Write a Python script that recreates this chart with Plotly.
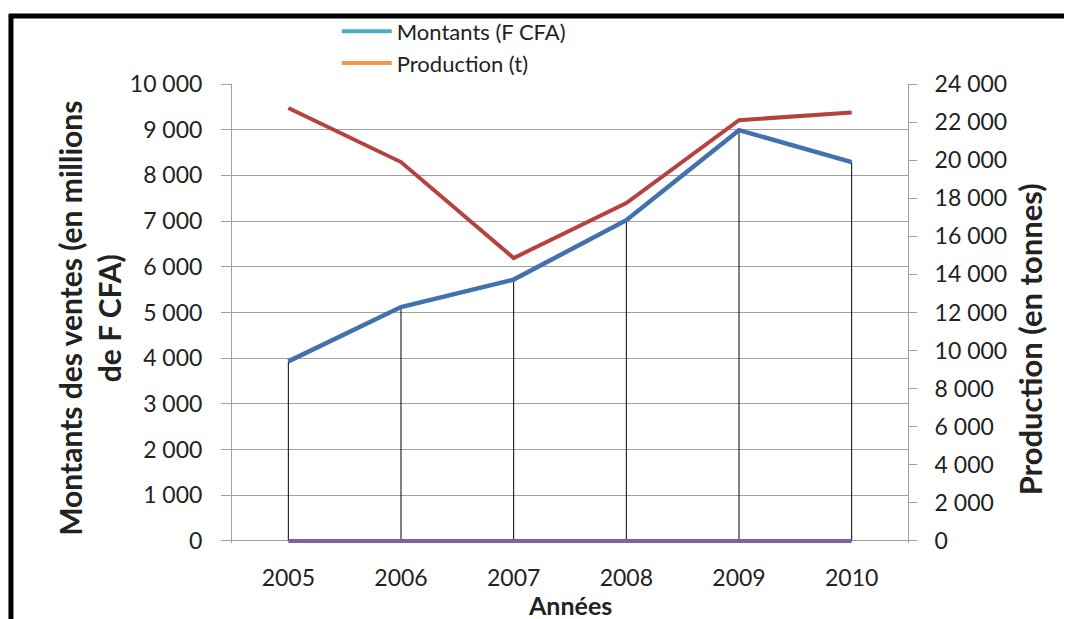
import plotly.graph_objects as go

# Données
annees = ["2005", "2006", "2007", "2008", "2009", "2010"]
montants = [3930, 5120, 5720, 7020, 8990, 8290]          # millions F CFA (axe gauche)
production = [22740, 19900, 14860, 17750, 22100, 22500]  # tonnes (axe droit)
serie_zero = [0, 0, 0, 0, 0, 0]

FONT = "Lato"
GRIS = "#A0A0A0"

fig = go.Figure()

# lignes de projection (noires) sous la courbe des montants
drop_x, drop_y = [], []
for a, m in zip(annees, montants):
    drop_x += [a, a, None]
    drop_y += [0, m, None]
fig.add_trace(go.Scatter(x=drop_x, y=drop_y, mode="lines",
                         line=dict(color="black", width=1),
                         showlegend=False, hoverinfo="skip"))

fig.add_trace(go.Scatter(x=annees, y=serie_zero, mode="lines",
                         line=dict(color="#7F60A0", width=4), showlegend=False))
fig.add_trace(go.Scatter(x=annees, y=montants, mode="lines",
                         line=dict(color="#4272AE", width=4.5), showlegend=False))
fig.add_trace(go.Scatter(x=annees, y=production, mode="lines", yaxis="y2",
                         line=dict(color="#B5423F", width=4), showlegend=False))

# la légende d'origine affiche d'autres couleurs que les courbes
fig.add_trace(go.Scatter(x=[None], y=[None], mode="lines", name="Montants (F CFA)",
                         line=dict(color="#4BACC6", width=4)))
fig.add_trace(go.Scatter(x=[None], y=[None], mode="lines", name="Production (t)",
                         line=dict(color="#F79646", width=4)))

# la page ajoute une marge de 8 px : figure 1064x611
# petite marge sous 0 pour que la série à zéro ne soit pas coupée
fig.update_layout(
    width=1064, height=611,
    margin=dict(l=224, r=164, t=76, b=76, autoexpand=False),
    paper_bgcolor="white", plot_bgcolor="white",
    font=dict(family=FONT, size=23, color="#222"),
    separators=", ",
    showlegend=True,
    legend=dict(x=0.155, y=1.16, xanchor="left", yanchor="top",
                font=dict(size=22), bgcolor="rgba(0,0,0,0)",
                tracegroupgap=0, itemwidth=50),
    xaxis=dict(type="category", range=[-0.5, 5.5], showline=False,
               ticks="", showgrid=False,
               ticklabelstandoff=19, tickfont=dict(size=23)),
    yaxis=dict(range=[-44, 10000], tickvals=list(range(0, 10001, 1000)),
               tickformat=",d",
               showgrid=True, gridcolor=GRIS, gridwidth=1,
               showline=True, linecolor=GRIS, ticks="outside",
               ticklen=10, tickcolor=GRIS, zeroline=False,
               layer="below traces", ticklabelstandoff=14),
    yaxis2=dict(range=[-105.6, 24000], tickvals=list(range(0, 24001, 2000)),
                tickformat=",d",
                overlaying="y", side="right", showgrid=False,
                showline=True, linecolor=GRIS, ticks="outside",
                ticklen=8, tickcolor=GRIS, zeroline=False,
                layer="below traces", ticklabelstandoff=13),
)

# titres des axes
fig.add_annotation(text="<b>Montants des ventes (en millions<br>de F CFA)</b>",
                   xref="paper", yref="paper", x=-0.212, y=0.49,
                   xanchor="center", yanchor="middle",
                   textangle=-90, showarrow=False, font=dict(size=30))
fig.add_annotation(text="<b>Production (en tonnes)</b>",
                   xref="paper", yref="paper", x=1.18, y=0.443,
                   xanchor="center", yanchor="middle",
                   textangle=-90, showarrow=False, font=dict(size=31))
fig.add_annotation(text="<b>Années</b>", xref="paper", yref="paper",
                   x=0.5, y=-0.135, xanchor="center", yanchor="middle",
                   showarrow=False, font=dict(size=25))

# cadre noir (haut et gauche)
fig.add_shape(type="line", xref="paper", yref="paper",
              x0=-0.33, x1=1.3, y0=1.148, y1=1.148,
              line=dict(color="black", width=5))
fig.add_shape(type="line", xref="paper", yref="paper",
              x0=-0.327, x1=-0.327, y0=1.152, y1=-0.25,
              line=dict(color="black", width=5))

fig.write_html("out.html")
